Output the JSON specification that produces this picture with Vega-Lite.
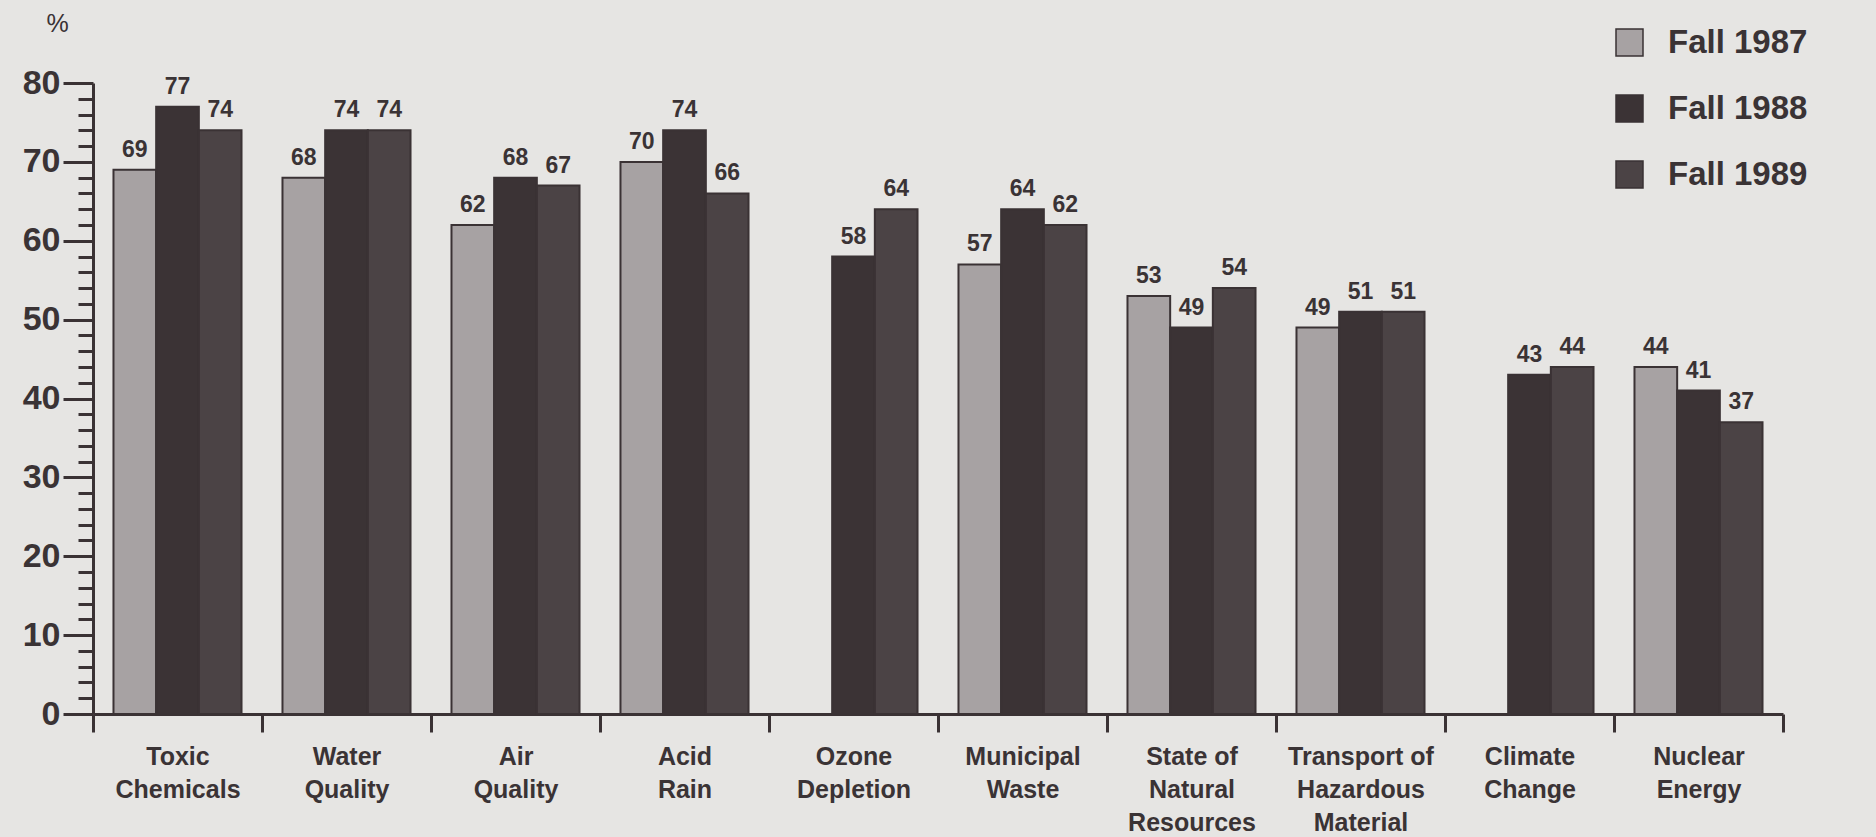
{
  "$schema": "https://vega.github.io/schema/vega-lite/v6.json",
  "width": 1690,
  "height": 631,
  "autosize": "none",
  "padding": {"left": 93, "top": 83, "right": 93, "bottom": 123},
  "background": "#e6e5e3",
  "config": {
    "view": {"stroke": null},
    "font": "Liberation Sans",
    "axis": {"grid": false}
  },
  "data": {
    "values": [
      {"issue": "Toxic Chemicals", "survey": "Fall 1987", "pct": 69},
      {"issue": "Toxic Chemicals", "survey": "Fall 1988", "pct": 77},
      {"issue": "Toxic Chemicals", "survey": "Fall 1989", "pct": 74},
      {"issue": "Water Quality", "survey": "Fall 1987", "pct": 68},
      {"issue": "Water Quality", "survey": "Fall 1988", "pct": 74},
      {"issue": "Water Quality", "survey": "Fall 1989", "pct": 74},
      {"issue": "Air Quality", "survey": "Fall 1987", "pct": 62},
      {"issue": "Air Quality", "survey": "Fall 1988", "pct": 68},
      {"issue": "Air Quality", "survey": "Fall 1989", "pct": 67},
      {"issue": "Acid Rain", "survey": "Fall 1987", "pct": 70},
      {"issue": "Acid Rain", "survey": "Fall 1988", "pct": 74},
      {"issue": "Acid Rain", "survey": "Fall 1989", "pct": 66},
      {"issue": "Ozone Depletion", "survey": "Fall 1988", "pct": 58},
      {"issue": "Ozone Depletion", "survey": "Fall 1989", "pct": 64},
      {"issue": "Municipal Waste", "survey": "Fall 1987", "pct": 57},
      {"issue": "Municipal Waste", "survey": "Fall 1988", "pct": 64},
      {"issue": "Municipal Waste", "survey": "Fall 1989", "pct": 62},
      {"issue": "State of Natural Resources", "survey": "Fall 1987", "pct": 53},
      {"issue": "State of Natural Resources", "survey": "Fall 1988", "pct": 49},
      {"issue": "State of Natural Resources", "survey": "Fall 1989", "pct": 54},
      {"issue": "Transport of Hazardous Material", "survey": "Fall 1987", "pct": 49},
      {"issue": "Transport of Hazardous Material", "survey": "Fall 1988", "pct": 51},
      {"issue": "Transport of Hazardous Material", "survey": "Fall 1989", "pct": 51},
      {"issue": "Climate Change", "survey": "Fall 1988", "pct": 43},
      {"issue": "Climate Change", "survey": "Fall 1989", "pct": 44},
      {"issue": "Nuclear Energy", "survey": "Fall 1987", "pct": 44},
      {"issue": "Nuclear Energy", "survey": "Fall 1988", "pct": 41},
      {"issue": "Nuclear Energy", "survey": "Fall 1989", "pct": 37}
    ]
  },
  "encoding": {
    "x": {
      "field": "issue",
      "type": "nominal",
      "sort": null,
      "scale": {"paddingInner": 0, "paddingOuter": 0},
      "axis": {
        "title": null,
        "tickBand": "extent",
        "tickSize": 18,
        "tickWidth": 3,
        "tickColor": "#3a3234",
        "domainWidth": 3,
        "domainColor": "#3a3234",
        "labelAngle": 0,
        "labelFontSize": 25,
        "labelFontWeight": "bold",
        "labelColor": "#3a3335",
        "labelLineHeight": 33,
        "labelPadding": 12,
        "labelBaseline": "top",
        "labelExpr": "datum.label == 'State of Natural Resources' ? ['State of', 'Natural', 'Resources'] : datum.label == 'Transport of Hazardous Material' ? ['Transport of', 'Hazardous', 'Material'] : split(datum.label, ' ')"
      }
    },
    "xOffset": {
      "field": "survey",
      "type": "nominal",
      "scale": {"paddingInner": 0, "paddingOuter": 0.48}
    },
    "y": {
      "field": "pct",
      "type": "quantitative",
      "scale": {"domain": [0, 80], "nice": false},
      "axis": {
        "values": [0, 2, 4, 6, 8, 10, 12, 14, 16, 18, 20, 22, 24, 26, 28, 30, 32, 34, 36, 38, 40, 42, 44, 46, 48, 50, 52, 54, 56, 58, 60, 62, 64, 66, 68, 70, 72, 74, 76, 78, 80],
        "labelExpr": "datum.value % 10 === 0 ? datum.label : ''",
        "labelOverlap": false,
        "tickSize": {"condition": {"test": "datum.value % 10 === 0", "value": 30}, "value": 15},
        "tickWidth": 3,
        "tickColor": "#3a3234",
        "domainWidth": 3,
        "domainColor": "#3a3234",
        "labelFontSize": 34,
        "labelFontWeight": "bold",
        "labelColor": "#3a3335",
        "labelPadding": 3,
        "title": "%",
        "titleAngle": 0,
        "titleX": -36,
        "titleY": -60,
        "titleAlign": "center",
        "titleBaseline": "middle",
        "titleFontSize": 25,
        "titleFontWeight": "normal",
        "titleColor": "#3a3335"
      }
    }
  },
  "layer": [
    {
      "mark": {"type": "bar", "stroke": "#3a3234", "strokeWidth": 2},
      "encoding": {
        "color": {
          "field": "survey",
          "type": "nominal",
          "scale": {"domain": ["Fall 1987", "Fall 1988", "Fall 1989"], "range": ["#a7a2a3", "#3b3335", "#4b4345"]},
          "legend": {
            "title": null,
            "orient": "none",
            "legendX": 1520,
            "legendY": -57,
            "padding": 0,
            "symbolType": "square",
            "symbolSize": 729,
            "symbolStrokeColor": "#3a3234",
            "symbolStrokeWidth": 1.5,
            "labelFontSize": 33,
            "labelFontWeight": "bold",
            "labelColor": "#3a3335",
            "labelOffset": 22,
            "rowPadding": 32
          }
        }
      }
    },
    {
      "mark": {"type": "text", "baseline": "alphabetic", "dy": -13, "fontSize": 23, "fontWeight": "bold", "color": "#3a3335"},
      "encoding": {
        "text": {"field": "pct", "type": "quantitative"}
      }
    }
  ]
}
